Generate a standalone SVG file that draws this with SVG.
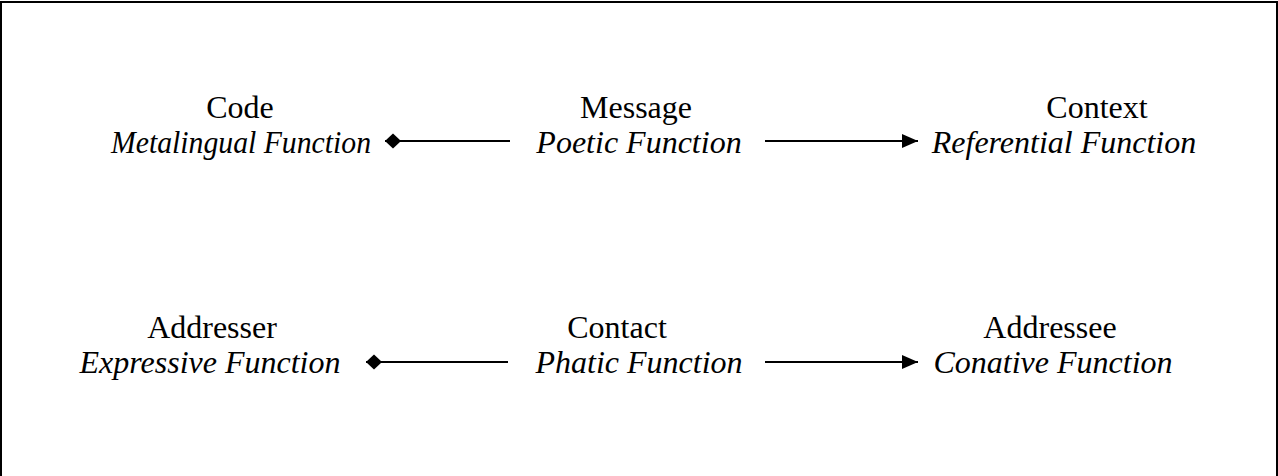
<svg xmlns="http://www.w3.org/2000/svg" width="1278" height="476" viewBox="0 0 1278 476">
<style>
.t{font-family:"Liberation Serif","Times New Roman",serif;font-size:32px;fill:#000;text-anchor:middle}
.i{font-style:italic}
.c{stroke:#000;stroke-width:2;fill:none}
</style>
<defs>
<marker id="dia" viewBox="0 0 16 16" refX="16" refY="8" markerWidth="16" markerHeight="16" markerUnits="userSpaceOnUse" orient="auto">
<path d="M0 8 L8 0.5 L16 8 L8 15.5 Z" fill="#000"/>
</marker>
<marker id="tri" viewBox="0 0 16 16" refX="16" refY="8" markerWidth="16" markerHeight="16" markerUnits="userSpaceOnUse" orient="auto">
<path d="M0 1 L16 8 L0 15 Z" fill="#000"/>
</marker>
</defs>
<rect x="0" y="0" width="1278" height="476" fill="#fff"/>
<path d="M1 480 V2 H1277 V480" fill="none" stroke="#000" stroke-width="2"/>
<g id="code"><text class="t" x="240" y="118">Code</text><text class="t i" x="241" y="153" textLength="260" lengthAdjust="spacingAndGlyphs">Metalingual Function</text></g>
<g id="message"><text class="t" x="636" y="118">Message</text><text class="t i" x="639" y="153">Poetic Function</text></g>
<g id="context"><text class="t" x="1097" y="118">Context</text><text class="t i" x="1064" y="153">Referential Function</text></g>
<g id="addresser"><text class="t" x="212" y="338">Addresser</text><text class="t i" x="210" y="373">Expressive Function</text></g>
<g id="contact"><text class="t" x="617" y="338">Contact</text><text class="t i" x="639" y="373">Phatic Function</text></g>
<g id="addressee"><text class="t" x="1050" y="338">Addressee</text><text class="t i" x="1053" y="373">Conative Function</text></g>
<g id="connectors">
<line class="c" x1="510" y1="141" x2="385" y2="141" marker-end="url(#dia)"/>
<line class="c" x1="765" y1="141" x2="918" y2="141" marker-end="url(#tri)"/>
<line class="c" x1="508" y1="362" x2="366" y2="362" marker-end="url(#dia)"/>
<line class="c" x1="765" y1="362" x2="918" y2="362" marker-end="url(#tri)"/>
</g>
</svg>
